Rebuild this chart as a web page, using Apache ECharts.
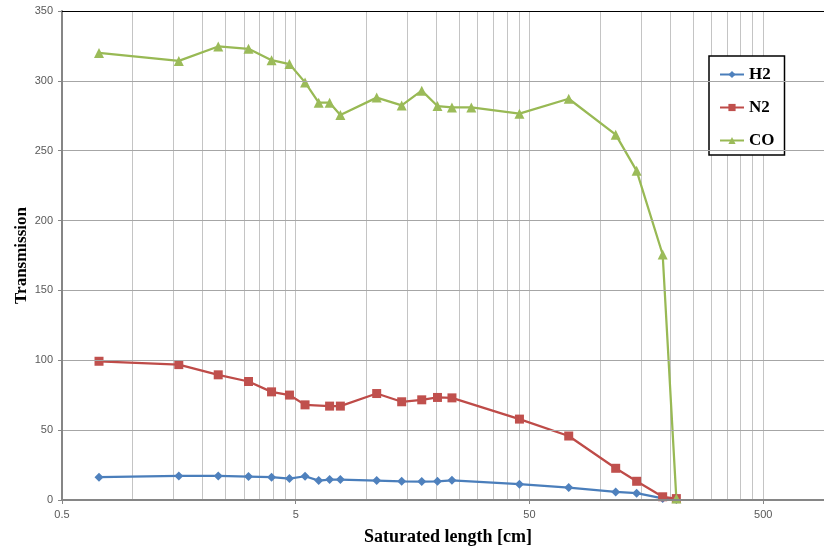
<!DOCTYPE html>
<html>
<head>
<meta charset="utf-8">
<script src="https://cdn.jsdelivr.net/npm/echarts@6/dist/echarts.min.js"></script>
<style>
  html, body { margin: 0; padding: 0; background: #fff; }
  #chart { width: 824px; height: 551px; }
</style>
</head>
<body>
<div id="chart"></div>
<script>
// Saturated length [cm] of each measurement
const lengths = [0.72, 1.58, 2.33, 3.14, 3.94, 4.70, 5.48, 6.27, 6.98, 7.76, 11.1, 14.2,
                 17.3, 20.2, 23.3, 28.2, 45.3, 73.6, 116.9, 143.7, 185.7, 212.5];

// Transmission per gas (null = not measured at that length)
const h2 = [16.3, 17.2, 17.2, 16.8, 16.3, 15.3, 17.0, 13.9, 14.6, 14.6, 13.9, 13.4,
            13.2, 13.4, 14.1, null, 11.3, 8.9, 5.8, 4.9, 1.1, 0.3];
const n2 = [99.3, 96.9, 89.6, 84.8, 77.4, 75.1, 68.1, null, 67.2, 67.2, 76.2, 70.3,
            71.7, 73.4, 73.1, null, 57.9, 45.8, 22.7, 13.4, 2.3, 1.0];
const co = [320, 314.3, 324.6, 322.9, 314.8, 312, 298.9, 284.4, 284.4, 275.6, 288, 282.4,
            293, 282, 281, 281, 276.5, 287.2, 261.5, 235.6, 175.7, 1.0];

const seriesNames = ['H2', 'N2', 'CO'];

// Labelled values on the logarithmic length axis
const xTickLabels = [0.5, 5, 50, 500];
// Vertical gridlines: every k × 0.5·10^n step inside the axis range
const xGridLines = [1, 1.5, 2, 2.5, 3, 3.5, 4, 4.5, 5,
                    10, 15, 20, 25, 30, 35, 40, 45, 50,
                    100, 150, 200, 250, 300, 350, 400, 450, 500];

const xMin = 0.5, xMax = 910;
const yMin = 0, yMax = 350, yStep = 50;

const pairs = vals => lengths.map((x, i) => [x, vals[i]]);

const chart = echarts.init(document.getElementById('chart'), null, { renderer: 'canvas' });

const lineSeries = (name, vals, color, fill, symbol, size) => ({
  name: name,
  type: 'line',
  data: pairs(vals),
  connectNulls: true,
  symbol: symbol,
  symbolSize: size,
  z: 3,
  lineStyle: { color: color, width: 2.25 },
  itemStyle: { color: fill, borderColor: fill, borderWidth: 0 }
});

chart.setOption({
  animation: false,
  grid: { left: 62, top: 11, right: -2, bottom: 50, show: false },
  legend: {
    data: seriesNames,
    orient: 'vertical',
    left: 709, top: 56,
    padding: [10, 10, 6, 10],
    itemGap: 16,
    itemWidth: 24, itemHeight: 9,
    backgroundColor: '#fff',
    borderColor: '#000', borderWidth: 1.5,
    textStyle: { fontFamily: 'Liberation Serif', fontWeight: 'bold', fontSize: 17, color: '#000' }
  },
  xAxis: [
    {
      type: 'log',
      logBase: 10,
      min: xMin, max: xMax,
      name: 'Saturated length [cm]',
      nameLocation: 'middle',
      nameGap: 28,
      nameMoveOverlap: false,
      nameTextStyle: { fontFamily: 'Liberation Serif', fontWeight: 'bold', fontSize: 18, color: '#000', padding: [0, 0, 0, 10] },
      axisLine: { show: true, onZero: false, lineStyle: { color: '#868686', width: 2 } },
      axisTick: { show: true, length: 4, customValues: xTickLabels, lineStyle: { color: '#868686' } },
      axisLabel: {
        customValues: xTickLabels,
        margin: 9,
        fontFamily: 'Liberation Sans', fontSize: 11, color: '#595959',
        formatter: v => String(+v.toPrecision(6))
      },
      splitLine: { show: false },
      minorTick: { show: false },
      minorSplitLine: { show: false },
      z: 4
    },
    {
      // plot-area top border
      type: 'log',
      logBase: 10,
      position: 'top',
      min: xMin, max: xMax,
      axisLine: { show: true, onZero: false, lineStyle: { color: '#000', width: 1.2 } },
      axisTick: { show: false },
      axisLabel: { show: false },
      splitLine: { show: false },
      z: 4
    }
  ],
  yAxis: {
    type: 'value',
    min: yMin, max: yMax, interval: yStep,
    name: 'Transmission',
    nameLocation: 'middle',
    nameGap: 32,
    nameMoveOverlap: false,
    nameTextStyle: { fontFamily: 'Liberation Serif', fontWeight: 'bold', fontSize: 17, color: '#000' },
    axisLine: { show: true, lineStyle: { color: '#868686', width: 2 } },
    axisTick: { show: true, length: 4, lineStyle: { color: '#868686' } },
    axisLabel: { margin: 9, fontFamily: 'Liberation Sans', fontSize: 11, color: '#595959' },
    splitLine: { show: true, lineStyle: { color: '#a6a6a6', width: 1 } },
    z: 4
  },
  series: [
    {
      name: 'grid',
      type: 'line',
      data: [],
      z: 1,
      silent: true,
      markLine: {
        silent: true,
        z: 1,
        symbol: ['none', 'none'],
        label: { show: false },
        lineStyle: { color: '#c4c4c4', width: 1, type: 'solid' },
        emphasis: { disabled: true },
        data: xGridLines.map(v => ({ xAxis: v }))
      }
    },
    lineSeries('H2', h2, '#4a7ebb', '#4f81bd', 'diamond', 9),
    lineSeries('N2', n2, '#be4b48', '#c0504d', 'rect', 9),
    lineSeries('CO', co, '#98b954', '#9bbb59', 'triangle', 10)
  ]
});
</script>
</body>
</html>
